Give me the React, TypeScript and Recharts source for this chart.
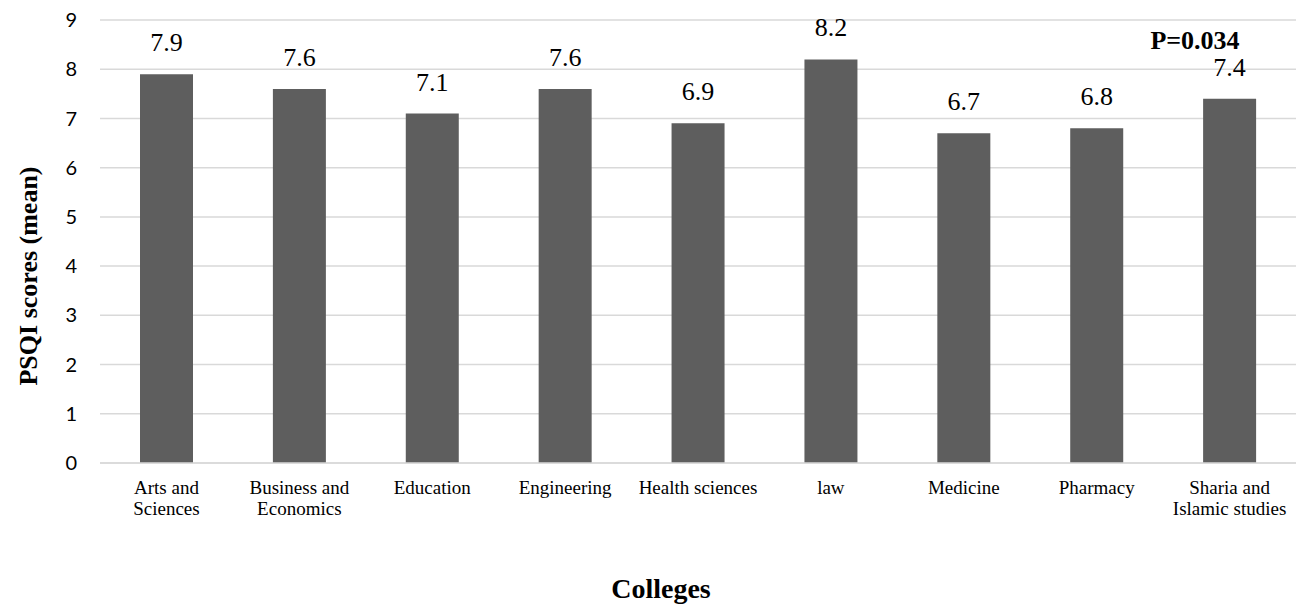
import { BarChart, Bar, XAxis, YAxis, CartesianGrid, LabelList, Label, Customized } from "recharts";

const colleges = [
  "Arts and\nSciences",
  "Business and\nEconomics",
  "Education",
  "Engineering",
  "Health sciences",
  "law",
  "Medicine",
  "Pharmacy",
  "Sharia and\nIslamic studies",
];
const psqiMeans = [7.9, 7.6, 7.1, 7.6, 6.9, 8.2, 6.7, 6.8, 7.4];
const yTicks = [0, 1, 2, 3, 4, 5, 6, 7, 8, 9];
const pValueText = "P=0.034";

const data = colleges.map((c, i) => ({ college: c, psqi: psqiMeans[i] }));

const serif = "'Liberation Serif', 'Times New Roman', serif";

function CollegeTick(props: any) {
  const { x, y, payload } = props;
  const lines = String(payload.value).split("\n");
  return (
    <text x={x} y={y} textAnchor="middle" fontFamily={serif} fontSize={19} fill="#000">
      {lines.map((l, i) => (
        <tspan key={i} x={x} dy={i === 0 ? 23 : 21}>
          {l}
        </tspan>
      ))}
    </text>
  );
}

export default function App() {
  return (
    <div style={{ position: "absolute", left: 0, top: 0, background: "#fff" }}>
      <BarChart
        width={1298}
        height={606}
        data={data}
        margin={{ top: 20, right: 2, left: 40, bottom: 83 }}
      >
        <CartesianGrid vertical={false} stroke="#d9d9d9" strokeWidth={1.5} />
        <XAxis
          dataKey="college"
          interval={0}
          height={60}
          tickLine={false}
          axisLine={{ stroke: "#d9d9d9", strokeWidth: 1.5 }}
          tickMargin={2}
          tick={<CollegeTick />}
        />
        <YAxis
          width={60}
          domain={[0, 9]}
          ticks={yTicks}
          interval={0}
          tickLine={false}
          axisLine={false}
          tickMargin={17}
          tick={{ fontFamily: "Lato, 'Open Sans', sans-serif", fontSize: 20, fill: "#000" }}
        >
          <Label
            content={() => (
              <text
                x={28}
                y={276}
                transform="rotate(-90 28 276)"
                textAnchor="middle"
                dominantBaseline="central"
                fontFamily={serif}
                fontWeight="bold"
                fontSize={26}
                fill="#000"
              >
                PSQI scores (mean)
              </text>
            )}
          />
        </YAxis>
        <Bar dataKey="psqi" fill="#5e5e5e" barSize={53} isAnimationActive={false}>
          <LabelList
            dataKey="psqi"
            position="top"
            offset={23}
            style={{ fontFamily: serif, fontSize: 26, fill: "#000" }}
            formatter={(v: any) => Number(v).toFixed(1)}
          />
        </Bar>
        <Customized
          component={() => (
            <g>
              <text
                x={1195}
                y={49}
                textAnchor="middle"
                fontFamily={serif}
                fontWeight="bold"
                fontSize={26}
                fill="#000"
              >
                {pValueText}
              </text>
              <text
                x={661}
                y={598}
                textAnchor="middle"
                fontFamily={serif}
                fontWeight="bold"
                fontSize={28}
                fill="#000"
              >
                Colleges
              </text>
            </g>
          )}
        />
      </BarChart>
    </div>
  );
}
